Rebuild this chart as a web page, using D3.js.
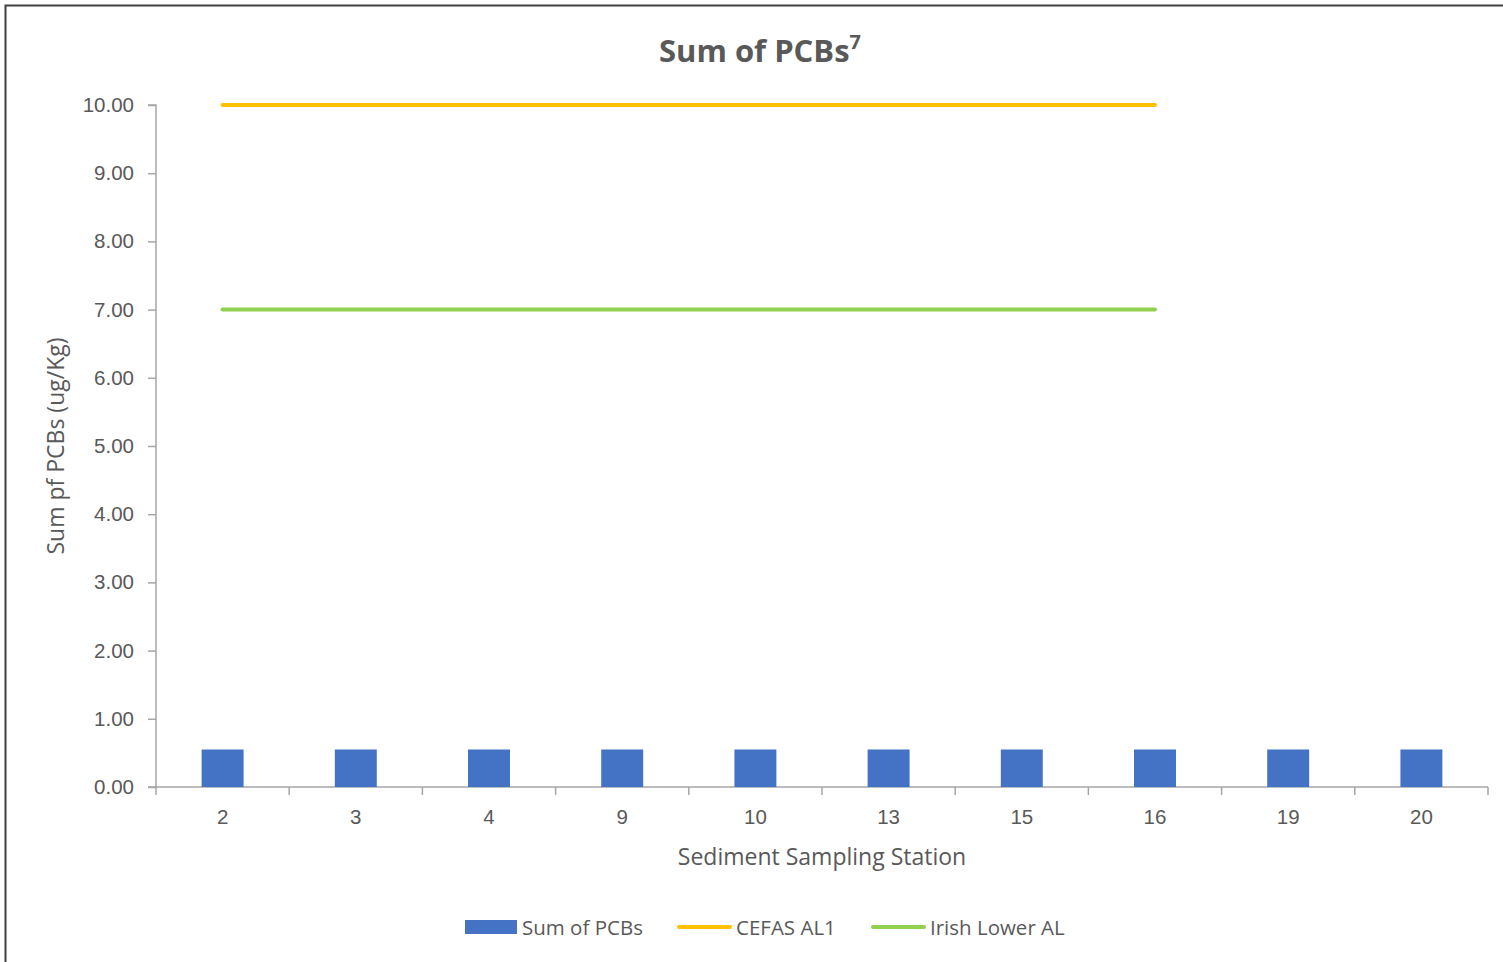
<!DOCTYPE html>
<html>
<head>
<meta charset="utf-8">
<script src="https://cdn.jsdelivr.net/npm/d3@7"></script>
<style>
  html, body { margin: 0; padding: 0; background: #fff; }
  svg { display: block; font-family: "Open Sans", "Noto Sans", sans-serif; }
  .axis text { fill: #595959; font-size: 20.5px; }
  .axis path, .axis line { stroke: #a6a6a6; stroke-width: 1.5; }
</style>
</head>
<body>
<div id="chart"></div>
<script>
// Sum of PCBs per sediment sampling station, with two action levels
const stations = ["2", "3", "4", "9", "10", "13", "15", "16", "19", "20"];
const pcbValues = [0.55, 0.55, 0.55, 0.55, 0.55, 0.55, 0.55, 0.55, 0.55, 0.55];
const cefasAL1 = [10, 10, 10, 10, 10, 10, 10, 10];   // stations 2..16
const irishLowerAL = [7, 7, 7, 7, 7, 7, 7, 7];       // stations 2..16
const yTicks = [0, 1, 2, 3, 4, 5, 6, 7, 8, 9, 10];

(function () {
  const W = 1503, H = 962;
  const margin = { top: 105, right: 15, bottom: 175, left: 156 };
  const width = W - margin.left - margin.right;
  const height = H - margin.top - margin.bottom;

  const svg = d3.select("#chart").append("svg")
    .attr("width", W).attr("height", H);

  // chart frame
  svg.append("rect")
    .attr("x", 5.5).attr("y", 5.5).attr("width", W).attr("height", H)
    .attr("fill", "none").attr("stroke", "#404040").attr("stroke-width", 2);

  svg.append("text")
    .attr("x", 760).attr("y", 62).attr("text-anchor", "middle")
    .attr("fill", "#595959").attr("font-size", "31px").attr("font-weight", "bold")
    .text("Sum of PCBs")
    .append("tspan").attr("dy", -13).attr("font-size", "20px").text("7");

  const g = svg.append("g").attr("transform", `translate(${margin.left},${margin.top})`);

  const x = d3.scaleBand().domain(stations).range([0, width]).paddingInner(0.685).paddingOuter(0.3425);
  const xStep = d3.scaleBand().domain(stations).range([0, width]);
  const y = d3.scaleLinear().domain([0, 10]).range([height, 0]);

  g.append("g").attr("class", "axis")
    .call(d3.axisLeft(y).tickValues(yTicks).tickSize(8).tickPadding(14).tickFormat(d3.format(".2f")))
    .call(a => a.select(".domain").attr("d", `M-8,0H0V${height}H-8`));

  const xAxis = g.append("g").attr("class", "axis").attr("transform", `translate(0,${height})`)
    .call(d3.axisBottom(xStep).tickSize(0).tickPadding(22));
  xAxis.select(".domain").attr("d", `M0,0H${width}`);
  // category boundary ticks
  xAxis.selectAll(".sep").data(d3.range(stations.length + 1)).join("line")
    .attr("class", "sep")
    .attr("x1", i => i * xStep.step()).attr("x2", i => i * xStep.step())
    .attr("y1", 0).attr("y2", 8);

  g.selectAll(".bar").data(stations).join("rect")
    .attr("class", "bar")
    .attr("x", d => x(d)).attr("width", x.bandwidth())
    .attr("y", (d, i) => y(pcbValues[i])).attr("height", (d, i) => y(0) - y(pcbValues[i]))
    .attr("fill", "#4472c4");

  const cx = d => xStep(d) + xStep.bandwidth() / 2;
  const line = d3.line().x((v, i) => cx(stations[i])).y(v => y(v));

  g.append("path").datum(cefasAL1).attr("d", line)
    .attr("fill", "none").attr("stroke", "#ffc000").attr("stroke-width", 4).attr("stroke-linecap", "round");
  g.append("path").datum(irishLowerAL).attr("d", line)
    .attr("fill", "none").attr("stroke", "#92d050").attr("stroke-width", 4).attr("stroke-linecap", "round");

  svg.append("text")
    .attr("transform", `translate(64,${margin.top + height / 2}) rotate(-90)`)
    .attr("text-anchor", "middle").attr("fill", "#595959").attr("font-size", "23px")
    .text("Sum pf PCBs (ug/Kg)");

  svg.append("text")
    .attr("x", 822).attr("y", 865).attr("text-anchor", "middle")
    .attr("fill", "#595959").attr("font-size", "23px")
    .text("Sediment Sampling Station");

  // legend
  const legend = svg.append("g").attr("font-size", "20.5px").attr("fill", "#595959");
  legend.append("rect").attr("x", 465).attr("y", 920).attr("width", 52).attr("height", 14).attr("fill", "#4472c4");
  legend.append("text").attr("x", 522).attr("y", 935).text("Sum of PCBs");
  legend.append("line").attr("x1", 679).attr("x2", 730).attr("y1", 927).attr("y2", 927)
    .attr("stroke", "#ffc000").attr("stroke-width", 4).attr("stroke-linecap", "round");
  legend.append("text").attr("x", 736).attr("y", 935).text("CEFAS AL1");
  legend.append("line").attr("x1", 873).attr("x2", 924).attr("y1", 927).attr("y2", 927)
    .attr("stroke", "#92d050").attr("stroke-width", 4).attr("stroke-linecap", "round");
  legend.append("text").attr("x", 930).attr("y", 935).text("Irish Lower AL");
})();
</script>
</body>
</html>
